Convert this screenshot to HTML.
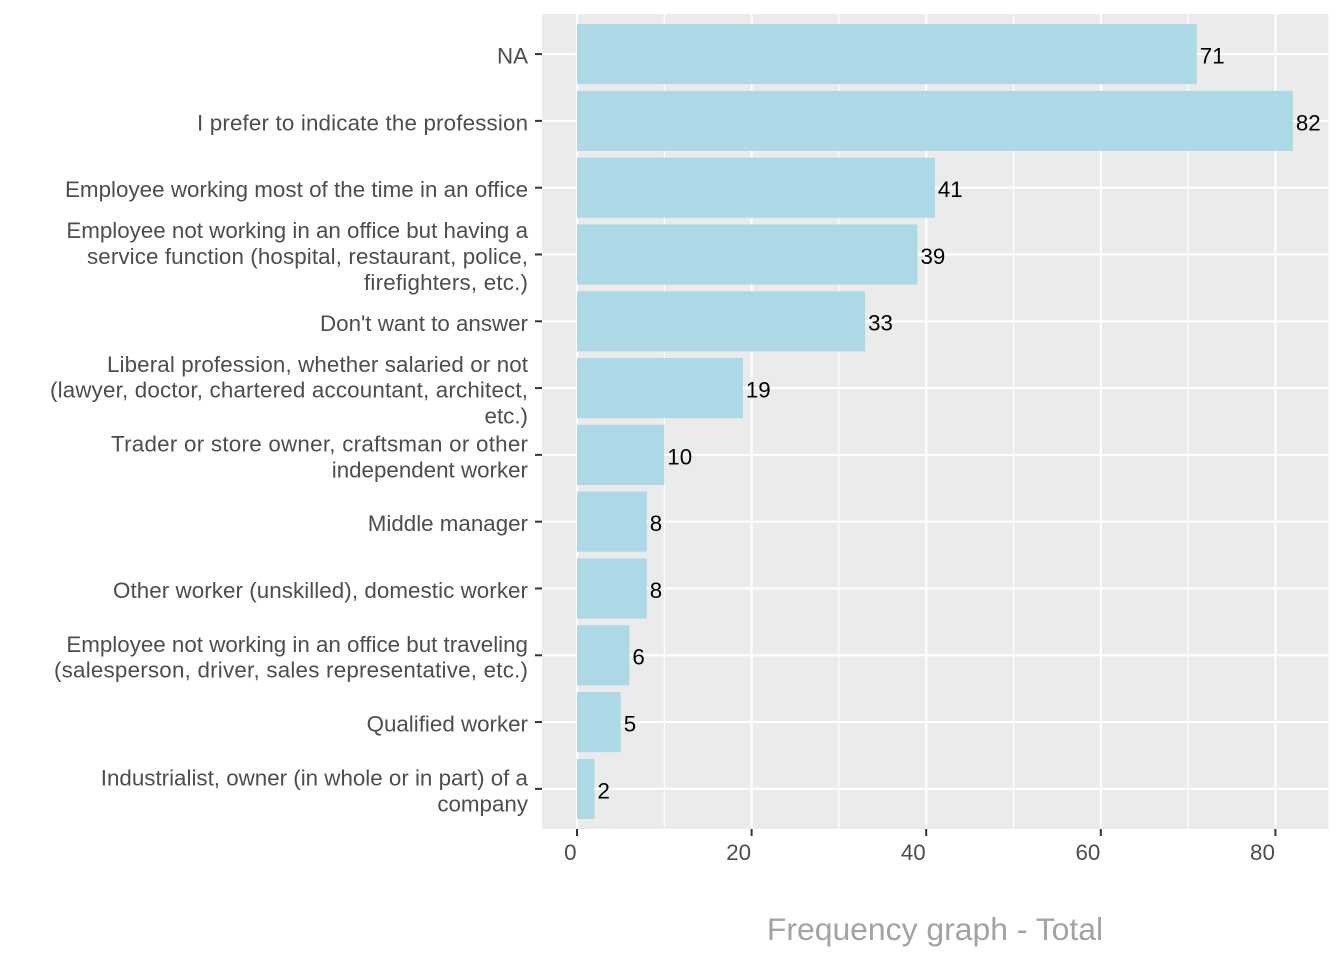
<!DOCTYPE html>
<html>
<head>
<meta charset="utf-8">
<style>
html,body{margin:0;padding:0;background:#fff;}
svg{display:block;}
text{font-family:"Liberation Sans",Arial,sans-serif;}
.yl{font-size:22.35px;fill:#4D4D4D;text-anchor:end;}
.xl{font-size:22.35px;fill:#4D4D4D;text-anchor:end;}
.vl{font-size:22.3px;fill:#000;text-anchor:start;}
</style>
</head>
<body>
<svg width="1344" height="960" viewBox="0 0 1344 960" xmlns="http://www.w3.org/2000/svg">
<rect x="0" y="0" width="1344" height="960" fill="#fff"/>
<!-- panel -->
<rect x="542" y="14" width="786.5" height="815" fill="#EBEBEB"/>
<!-- minor vertical gridlines -->
<g stroke="#fff" stroke-width="1.1">
<line x1="664.3" y1="14" x2="664.3" y2="829"/>
<line x1="838.9" y1="14" x2="838.9" y2="829"/>
<line x1="1013.5" y1="14" x2="1013.5" y2="829"/>
<line x1="1188.1" y1="14" x2="1188.1" y2="829"/>
</g>
<!-- major gridlines -->
<g stroke="#fff" stroke-width="2.1">
<line x1="577" y1="14" x2="577" y2="829"/>
<line x1="751.6" y1="14" x2="751.6" y2="829"/>
<line x1="926.2" y1="14" x2="926.2" y2="829"/>
<line x1="1100.8" y1="14" x2="1100.8" y2="829"/>
<line x1="1275.4" y1="14" x2="1275.4" y2="829"/>
<line x1="542" y1="54.08" x2="1328.5" y2="54.08"/>
<line x1="542" y1="120.88" x2="1328.5" y2="120.88"/>
<line x1="542" y1="187.68" x2="1328.5" y2="187.68"/>
<line x1="542" y1="254.48" x2="1328.5" y2="254.48"/>
<line x1="542" y1="321.28" x2="1328.5" y2="321.28"/>
<line x1="542" y1="388.08" x2="1328.5" y2="388.08"/>
<line x1="542" y1="454.88" x2="1328.5" y2="454.88"/>
<line x1="542" y1="521.68" x2="1328.5" y2="521.68"/>
<line x1="542" y1="588.48" x2="1328.5" y2="588.48"/>
<line x1="542" y1="655.28" x2="1328.5" y2="655.28"/>
<line x1="542" y1="722.08" x2="1328.5" y2="722.08"/>
<line x1="542" y1="788.88" x2="1328.5" y2="788.88"/>
</g>
<!-- bars -->
<g fill="#ADD8E6">
<rect x="577" y="24.02" width="619.8" height="60.12"/>
<rect x="577" y="90.82" width="715.9" height="60.12"/>
<rect x="577" y="157.62" width="357.9" height="60.12"/>
<rect x="577" y="224.42" width="340.5" height="60.12"/>
<rect x="577" y="291.22" width="288.1" height="60.12"/>
<rect x="577" y="358.02" width="165.9" height="60.12"/>
<rect x="577" y="424.82" width="87.3" height="60.12"/>
<rect x="577" y="491.62" width="69.8" height="60.12"/>
<rect x="577" y="558.42" width="69.8" height="60.12"/>
<rect x="577" y="625.22" width="52.4" height="60.12"/>
<rect x="577" y="692.02" width="43.7" height="60.12"/>
<rect x="577" y="758.82" width="17.5" height="60.12"/>
</g>
<!-- value labels -->
<text class="vl" x="1199.8" y="63.5">71</text>
<text class="vl" x="1295.9" y="130.3">82</text>
<text class="vl" x="937.9" y="197.1">41</text>
<text class="vl" x="920.5" y="263.9">39</text>
<text class="vl" x="868.1" y="330.7">33</text>
<text class="vl" x="745.9" y="397.5">19</text>
<text class="vl" x="667.3" y="464.3">10</text>
<text class="vl" x="649.8" y="531.1">8</text>
<text class="vl" x="649.8" y="597.9">8</text>
<text class="vl" x="632.4" y="664.7">6</text>
<text class="vl" x="623.7" y="731.5">5</text>
<text class="vl" x="597.5" y="798.3">2</text>
<!-- y ticks -->
<g stroke="#333333" stroke-width="2">
<line x1="535" y1="54.08" x2="542" y2="54.08"/>
<line x1="535" y1="120.88" x2="542" y2="120.88"/>
<line x1="535" y1="187.68" x2="542" y2="187.68"/>
<line x1="535" y1="254.48" x2="542" y2="254.48"/>
<line x1="535" y1="321.28" x2="542" y2="321.28"/>
<line x1="535" y1="388.08" x2="542" y2="388.08"/>
<line x1="535" y1="454.88" x2="542" y2="454.88"/>
<line x1="535" y1="521.68" x2="542" y2="521.68"/>
<line x1="535" y1="588.48" x2="542" y2="588.48"/>
<line x1="535" y1="655.28" x2="542" y2="655.28"/>
<line x1="535" y1="722.08" x2="542" y2="722.08"/>
<line x1="535" y1="788.88" x2="542" y2="788.88"/>
<!-- x ticks -->
<line x1="577" y1="829" x2="577" y2="836"/>
<line x1="751.6" y1="829" x2="751.6" y2="836"/>
<line x1="926.2" y1="829" x2="926.2" y2="836"/>
<line x1="1100.8" y1="829" x2="1100.8" y2="836"/>
<line x1="1275.4" y1="829" x2="1275.4" y2="836"/>
</g>
<!-- y labels -->
<text class="yl" x="528" y="63.6">NA</text>
<text class="yl" x="528" y="130.4" textLength="331">I prefer to indicate the profession</text>
<text class="yl" x="528" y="197.2" textLength="463">Employee working most of the time in an office</text>
<text class="yl" x="528" y="238.2">Employee not working in an office but having a</text>
<text class="yl" x="528" y="264.0" textLength="441">service function (hospital, restaurant, police,</text>
<text class="yl" x="528" y="289.8" textLength="164">firefighters, etc.)</text>
<text class="yl" x="528" y="330.8">Don't want to answer</text>
<text class="yl" x="528" y="371.8" textLength="421">Liberal profession, whether salaried or not</text>
<text class="yl" x="528" y="397.6" textLength="478">(lawyer, doctor, chartered accountant, architect,</text>
<text class="yl" x="528" y="423.4">etc.)</text>
<text class="yl" x="528" y="451.5" textLength="417">Trader or store owner, craftsman or other</text>
<text class="yl" x="528" y="477.3">independent worker</text>
<text class="yl" x="528" y="531.2">Middle manager</text>
<text class="yl" x="528" y="598.0" textLength="415">Other worker (unskilled), domestic worker</text>
<text class="yl" x="528" y="651.9">Employee not working in an office but traveling</text>
<text class="yl" x="528" y="677.7" textLength="474">(salesperson, driver, sales representative, etc.)</text>
<text class="yl" x="528" y="731.6">Qualified worker</text>
<text class="yl" x="528" y="785.5">Industrialist, owner (in whole or in part) of a</text>
<text class="yl" x="528" y="811.3">company</text>
<!-- x labels -->
<text class="xl" x="576.5" y="860">0</text>
<text class="xl" x="751.1" y="860">20</text>
<text class="xl" x="925.7" y="860">40</text>
<text class="xl" x="1100.3" y="860">60</text>
<text class="xl" x="1274.9" y="860">80</text>
<!-- title -->
<text x="935" y="940" text-anchor="middle" style="font-size:31.9px;fill:#A3A3A3;">Frequency graph - Total</text>
</svg>
</body>
</html>
